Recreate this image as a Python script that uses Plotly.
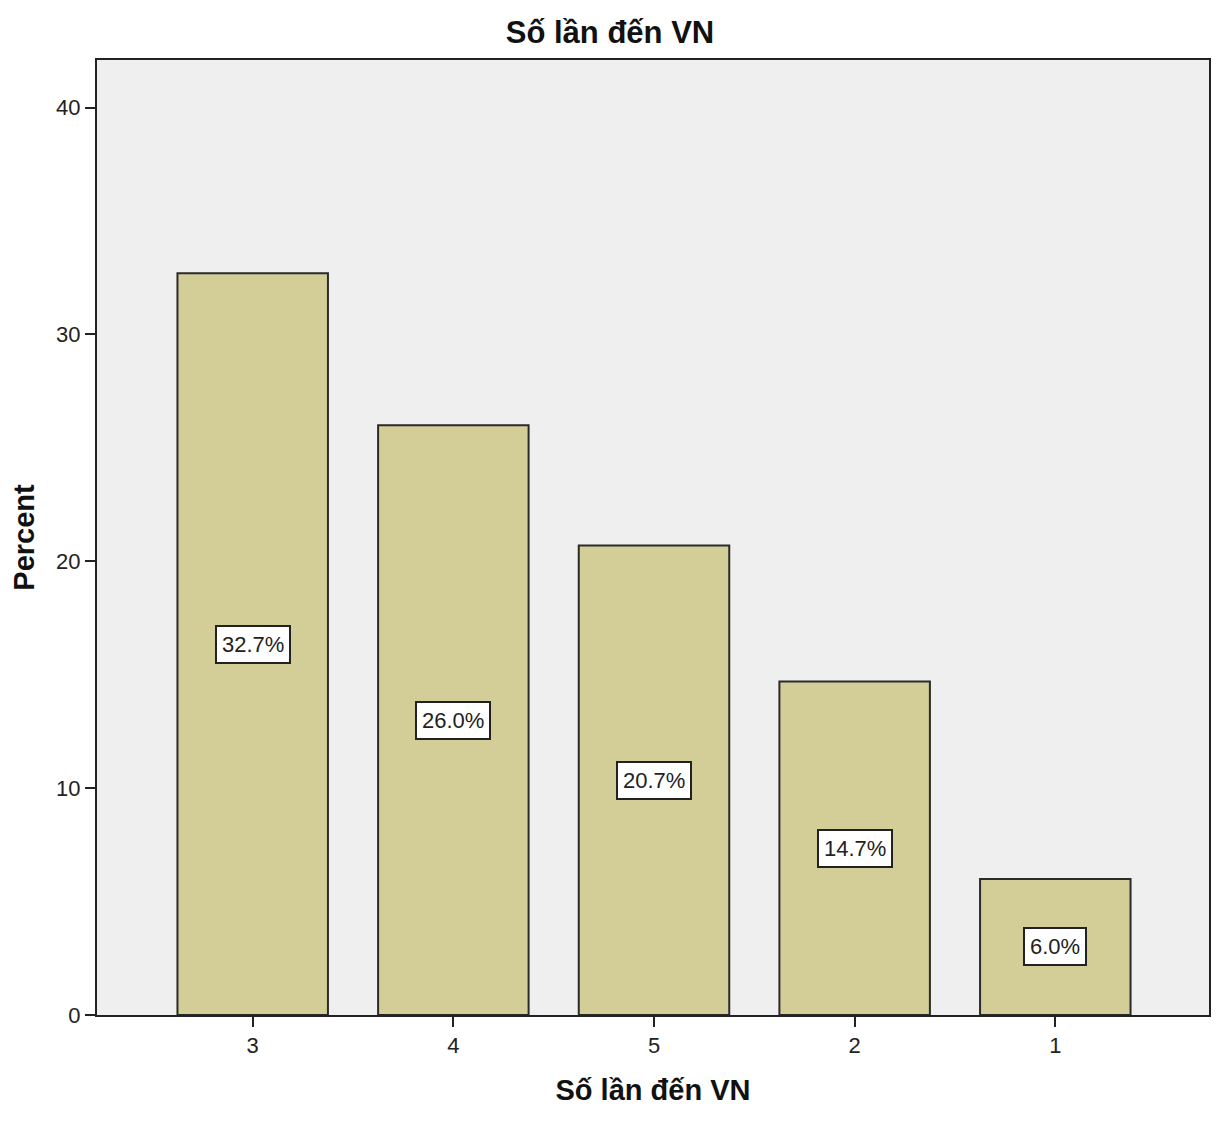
import plotly.graph_objects as go

categories = ["3", "4", "5", "2", "1"]
percents = [32.7, 26.0, 20.7, 14.7, 6.0]
labels = ["32.7%", "26.0%", "20.7%", "14.7%", "6.0%"]
y_ticks = [0, 10, 20, 30, 40]

FONT = "Liberation Sans, Arial"

fig = go.Figure()
fig.add_trace(go.Bar(
    x=list(range(len(categories))), y=percents, width=0.75,
    marker=dict(color="#D3CE97", line=dict(color="#2a2a2a", width=2)),
    hoverinfo="skip",
))
for i, (v, t) in enumerate(zip(percents, labels)):
    fig.add_annotation(x=i, y=v / 2, text=t, showarrow=False,
                       font=dict(family=FONT, size=22, color="#222"),
                       bgcolor="white", bordercolor="#222", borderwidth=2, borderpad=5)

fig.update_layout(
    width=1204, height=1107,
    margin=dict(l=89, r=1, t=52, b=100),
    paper_bgcolor="white", plot_bgcolor="#EFEFEF",
    showlegend=False,
    title=dict(text="<b>Số lần đến VN</b>", x=0.5, xanchor="center", y=0.978, yanchor="middle",
               font=dict(family=FONT, size=31, color="#111")),
    font=dict(family=FONT, color="#222"),
)
fig.update_xaxes(
    range=[-0.776, 4.766], tickmode="array", tickvals=list(range(len(categories))),
    ticktext=categories, ticks="outside", ticklen=10, tickwidth=2, tickcolor="#222",
    showline=True, linecolor="#222", linewidth=2, mirror=True, showgrid=False,
    tickfont=dict(size=22), zeroline=False,
    title=dict(text="<b>Số lần đến VN</b>", font=dict(size=29, color="#111"), standoff=22),
)
fig.update_yaxes(
    range=[0, 42.1], tickvals=y_ticks, ticks="outside", ticklen=10, tickwidth=2, tickcolor="#222",
    showline=True, linecolor="#222", linewidth=2, mirror=True, showgrid=False, zeroline=False,
    tickfont=dict(size=22),
    title=dict(text="<b>Percent</b>", font=dict(size=29, color="#111"), standoff=22),
)
fig.write_html("out.html")
